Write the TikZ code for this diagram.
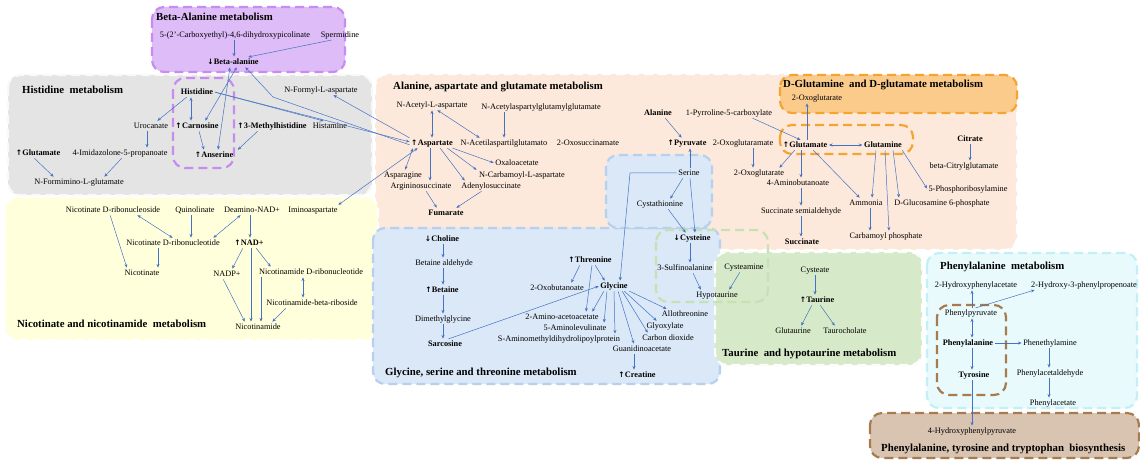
\documentclass[tikz,border=0pt]{standalone}
\usepackage{fontspec}
\setmainfont{Liberation Serif}
\newfontfamily\symf{DejaVu Sans}
\usetikzlibrary{arrows.meta}
\definecolor{ab}{HTML}{4472C4}
\definecolor{purfill}{HTML}{DDBCF7}
\definecolor{purline}{HTML}{C88CF0}
\definecolor{grayfill}{HTML}{E4E4E4}
\definecolor{yelfill}{HTML}{FFFFDC}
\definecolor{peachfill}{HTML}{FCE9DB}
\definecolor{orfill}{HTML}{FBCB8C}
\definecolor{orline}{HTML}{F5A432}
\definecolor{bluefill}{HTML}{DAE8F7}
\definecolor{blueline}{HTML}{B7D0EE}
\definecolor{grnline}{HTML}{C6E2B5}
\definecolor{grnfill}{HTML}{D6E9C8}
\definecolor{cyanfill}{HTML}{E8FAFC}
\definecolor{cyanline}{HTML}{C2EFF8}
\definecolor{brline}{HTML}{A87B4F}
\definecolor{brfill}{HTML}{D9C4B2}
\newcommand\upa{{\symf\fontsize{7.5}{8}\selectfont ↑}\kern0.3pt}
\newcommand\dna{{\symf\fontsize{7.5}{8}\selectfont ↓}\kern0.3pt}
\begin{document}
\begin{tikzpicture}[x=1pt,y=-1pt,
  reg/.style={line width=2.2pt, dash pattern=on 9pt off 5pt, rounded corners=12pt},
  lab/.style={font=\fontsize{8.3}{9}\selectfont, inner sep=1pt, text height=5.8pt, text depth=1.6pt},
  bl/.style={lab, font=\fontsize{8.3}{9}\selectfont\bfseries},
  ttl/.style={font=\fontsize{10.8}{12}\selectfont\bfseries, anchor=west, inner sep=0pt},
  con/.style={draw=ab, line width=0.5pt, -{Stealth[length=3.6pt,width=3pt]}, shorten >=0.5pt, shorten <=0.5pt},
  dcon/.style={draw=ab, line width=0.5pt, {Stealth[length=3.6pt,width=3pt]}-{Stealth[length=3.6pt,width=3pt]}, shorten >=0.5pt, shorten <=0.5pt}]
\useasboundingbox (0,0) rectangle (1140,462);
\fill[white] (0,0) rectangle (1140,462);
% ---------- regions ----------
\draw[reg, fill=peachfill, draw=white] (375,74) rectangle (1017,250);
\draw[reg, fill=orfill, draw=orline] (780,75) rectangle (1017,113);
\draw[reg, draw=orline] (780,125) rectangle (913,154);
\draw[reg, fill=grayfill, draw=white!95!gray] (8,75) rectangle (372,195);
\draw[reg, fill=purfill, draw=purline] (152,7) rectangle (345,72);
\draw[reg, draw=purline] (173,78) rectangle (234,168);
\draw[reg, fill=yelfill, draw=white] (5,197) rectangle (378,340);
\draw[reg, fill=bluefill, draw=blueline] (373,228) rectangle (720,384);
\draw[reg, fill=bluefill, draw=blueline] (606,155) rectangle (712,228);
\draw[reg, fill=grnfill, draw=white!90!grnfill] (715,252) rectangle (922,365);
\draw[reg, draw=grnline] (656,230) rectangle (768,302);
\draw[reg, fill=cyanfill, draw=cyanline] (927,253) rectangle (1137,408);
\draw[reg, draw=brline] (937,305) rectangle (1006,395);
\draw[reg, fill=brfill, draw=brline] (870,413) rectangle (1139,458);
% ---------- titles ----------
\node[ttl] (tBeta) at (156,17) {Beta-Alanine metabolism};
\node[ttl] (tHis) at (22,90) {Histidine\ \ metabolism};
\node[ttl] (tNic) at (17,324) {Nicotinate and nicotinamide\ \ metabolism};
\node[ttl] (tAla) at (393,87) {Alanine,\ aspartate and glutamate metabolism};
\node[ttl] (tDG) at (783,85) {D-Glutamine\ \ and D-glutamate metabolism};
\node[ttl] (tGly) at (385,373) {Glycine,\ serine and threonine metabolism};
\node[ttl] (tTau) at (722,354) {Taurine\ \ and hypotaurine metabolism};
\node[ttl] (tPhe) at (940,267) {Phenylalanine\ \ metabolism};
\node[ttl] (tPTT) at (881,449) {Phenylalanine,\ tyrosine and tryptophan\ \ biosynthesis};
% ---------- beta-alanine ----------
\node[lab] (pic) at (235,35) {5-(2'-Carboxyethyl)-4,6-dihydroxypicolinate};
\node[lab] (spd) at (340,35) {Spermidine};
\node[bl] (bala) at (233,62) {\dna Beta-alanine};
% ---------- histidine ----------
\node[bl] (his) at (197,92) {Histidine};
\node[lab] (uro) at (151,126) {Urocanate};
\node[bl] (car) at (197,126) {\upa Carnosine};
\node[bl] (mhis) at (272,126) {\upa 3-Methylhistidine};
\node[lab] (hsm) at (330,126) {Histamine};
\node[bl] (glu1) at (38,153) {\upa Glutamate};
\node[lab] (imz) at (120,153) {4-Imidazolone-5-propanoate};
\node[bl] (ans) at (214,155) {\upa Anserine};
\node[lab] (nfg) at (79,182) {N-Formimino-L-glutamate};
\node[lab] (nfa) at (321,90) {N-Formyl-L-aspartate};
% ---------- nicotinate ----------
\node[lab] (nrs) at (113,210) {Nicotinate\ D-ribonucleoside};
\node[lab] (quin) at (195,210) {Quinolinate};
\node[lab] (dnad) at (252,210) {Deamino-NAD+};
\node[lab] (imino) at (313,210) {Iminoaspartate};
\node[lab] (nmnn) at (173,243) {Nicotinate\ D-ribonucleotide};
\node[bl] (nad) at (249,243) {\upa NAD+};
\node[lab] (nic) at (142,273) {Nicotinate};
\node[lab] (nadp) at (227,274) {NADP+};
\node[lab] (nmn) at (311,272) {Nicotinamide\ D-ribonucleotide};
\node[lab] (nr) at (312,303) {Nicotinamide-beta-riboside};
\node[lab] (nam) at (258,327) {Nicotinamide};
% ---------- alanine / aspartate / glutamate ----------
\node[lab] (naa) at (432,105) {N-Acetyl-L-aspartate};
\node[lab] (naagg) at (541,107) {N-Acetylaspartylglutamylglutamate};
\node[bl] (asp) at (432,143) {\upa Aspartate};
\node[lab] (naag) at (504,143) {N-Acetilaspartilglutamato};
\node[lab] (oxs) at (588,143) {2-Oxosuccinamate};
\node[lab] (oaa) at (517,163) {Oxaloacetate};
\node[lab] (asn) at (403,175) {Asparagine};
\node[lab] (nca) at (522,175) {N-Carbamoyl-L-aspartate};
\node[lab] (args) at (421,186) {Argininosuccinate};
\node[lab] (ads) at (491,186) {Adenylosuccinate};
\node[bl] (fum) at (446,213) {Fumarate};
\node[bl] (ala) at (658,113) {Alanine};
\node[lab] (p5c) at (729,113) {1-Pyrroline-5-carboxylate};
\node[bl] (pyr) at (687,143) {\upa Pyruvate};
\node[lab] (ogm) at (743,143) {2-Oxoglutaramate};
\node[bl] (glu) at (805,145) {\upa Glutamate};
\node[bl] (gln) at (883,145) {Glutamine};
\node[bl] (cit) at (970,139) {Citrate};
\node[lab] (bcg) at (964,166) {beta-Citrylglutamate};
\node[lab] (og2) at (759,173) {2-Oxoglutarate};
\node[lab] (gaba) at (798,183) {4-Aminobutanoate};
\node[lab] (pra) at (968,189) {5-Phosphoribosylamine};
\node[lab] (nh3) at (866,203) {Ammonia};
\node[lab] (glcn) at (942,203) {D-Glucosamine\ 6-phosphate};
\node[lab] (ssa) at (801,211) {Succinate\ semialdehyde};
\node[lab] (cbp) at (886,236) {Carbamoyl\ phosphate};
\node[bl] (suc) at (802,242) {Succinate};
\node[lab] (og1) at (817,98) {2-Oxoglutarate};
% ---------- glycine / serine / threonine ----------
\node[bl] (cho) at (442,239) {\dna Choline};
\node[lab] (bald) at (444,263) {Betaine\ aldehyde};
\node[bl] (bet) at (442,290) {\upa Betaine};
\node[lab] (dmg) at (443,319) {Dimethylglycine};
\node[bl] (sar) at (445,344) {Sarcosine};
\node[bl] (thr) at (590,260) {\upa Threonine};
\node[lab] (obu) at (557,288) {2-Oxobutanoate};
\node[bl] (gly) at (614,286) {Glycine};
\node[lab] (aaa) at (562,317) {2-Amino-acetoacetate};
\node[lab] (allo) at (685,314) {Allothreonine};
\node[lab] (ala5) at (575,328) {5-Aminolevulinate};
\node[lab] (glx) at (665,326) {Glyoxylate};
\node[lab] (samp) at (559,339) {S-Aminomethyldihydrolipoylprotein};
\node[lab] (co2) at (668,338) {Carbon dioxide};
\node[lab] (gaa) at (642,349) {Guanidinoacetate};
\node[bl] (cre) at (637,375) {\upa Creatine};
\node[lab] (ser) at (689,173) {Serine};
\node[lab] (cth) at (660,204) {Cystathionine};
\node[bl] (cys) at (692,238) {\dna Cysteine};
\node[lab] (sfa) at (685,268) {3-Sulfinoalanine};
\node[lab] (hyp) at (717,295) {Hypotaurine};
\node[lab] (cya) at (744,267) {Cysteamine};
% ---------- taurine ----------
\node[lab] (cyst) at (815,270) {Cysteate};
\node[bl] (tau) at (817,300) {\upa Taurine};
\node[lab] (glt) at (793,331) {Glutaurine};
\node[lab] (tch) at (845,331) {Taurocholate};
% ---------- phenylalanine ----------
\node[lab] (hpa) at (976,285) {2-Hydroxyphenylacetate};
\node[lab] (hpp) at (1084,285) {2-Hydroxy-3-phenylpropenoate};
\node[lab] (ppy) at (971,313) {Phenylpyruvate};
\node[bl] (phe) at (968,343) {Phenylalanine};
\node[lab] (pea) at (1050,343) {Phenethylamine};
\node[bl] (tyr) at (974,375) {Tyrosine};
\node[lab] (pal) at (1050,373) {Phenylacetaldehyde};
\node[lab] (pac) at (1053,403) {Phenylacetate};
\node[lab] (hppy) at (972,431) {4-Hydroxyphenylpyruvate};
% ---------- connectors: beta-alanine / histidine ----------
\draw[con] ([xshift=-1pt]pic.south) -- ([xshift=-1pt]pic.south |- bala.north);
\draw[con] ([xshift=-8pt]spd.south) -- ([xshift=-12pt]bala.north east);
\draw[con] ([xshift=-10pt]his.south) -- ([xshift=6pt]uro.north);
\draw[dcon] ([xshift=-6pt]his.south) -- ([xshift=-6pt]his.south |- car.north);
\draw[con] (his.east) -- ([xshift=-6pt]hsm.north);
\draw[con] ([xshift=-4pt]uro.south) -- ([xshift=-4pt]uro.south |- imz.north);
\draw[con] ([xshift=-4pt]glu1.south) -- ([xshift=-25pt]nfg.north);
\draw[con] ([xshift=2pt]imz.south) -- ([xshift=25pt]nfg.north);
\draw[con] ([xshift=2pt]car.south) -- ([xshift=-10pt]ans.north);
\draw[con] ([xshift=-14pt]mhis.south) -- ([xshift=3pt]ans.north east);
\draw[dcon] ([xshift=8pt]car.north) -- ([xshift=4pt]bala.south);
\draw[dcon] ([xshift=4pt]ans.north) -- ([xshift=-3pt]bala.south);
\coordinate (bk) at (273,97);
\draw[con] ([yshift=-2pt]asp.west) -- (bk) -- ([xshift=12pt]bala.south);
\draw[con] (asp.north west) -- ([xshift=12pt]nfa.south);
\draw[con] (his.east) -- ([yshift=1pt]asp.west);
\draw[dcon] ([xshift=-14pt]asp.south) -- ([xshift=25pt]imino.north);
% ---------- nicotinate ----------
\draw[con] ([xshift=-3pt]nrs.south) -- ([xshift=-15pt]nic.north);
\draw[dcon] ([xshift=24pt]nrs.south) -- (nmnn.north);
\draw[con] ([xshift=-4pt]quin.south) -- ([xshift=-4pt]quin.south |- nmnn.north);
\draw[dcon] ([xshift=-11pt]dnad.south) -- ([xshift=40pt]nmnn.north);
\draw[con] ([xshift=-2pt]dnad.south) -- ([xshift=-2pt]dnad.south |- nad.north);
\draw[con] ([xshift=-15pt]nmnn.south) -- ([xshift=-15pt]nmnn.south |- nic.north);
\draw[con] ([xshift=-6pt]nad.south) -- ([xshift=5pt]nadp.north);
\draw[con] ([xshift=2pt]nad.south) -- ([xshift=2pt]nad.south |- nam.north);
\draw[con] ([xshift=7pt]nad.south) -- ([xshift=-40pt]nmn.north);
\draw[con] ([xshift=-4pt]nadp.south) -- ([xshift=-13pt]nam.north);
\draw[con] ([xshift=-50pt]nmn.south) -- ([xshift=-50pt]nmn.south |- nam.north);
\draw[dcon] ([xshift=-8pt]nmn.south) -- ([xshift=-8pt]nmn.south |- nr.north);
\draw[con] ([xshift=-26pt]nr.south) -- ([xshift=14pt]nam.north);
% ---------- alanine / aspartate / glutamate ----------
\draw[dcon] (naa.south) -- (naa.south |- asp.north);
\draw[dcon] ([xshift=5pt]naa.south) -- ([xshift=-24pt]naag.north);
\draw[con] ([xshift=-37pt]naagg.south) -- ([xshift=-37pt]naagg.south |- naag.north);
\draw[con] ([xshift=20pt]asp.south) -- (oaa.west);
\draw[con] ([xshift=15pt]asp.south) -- ([xshift=-45pt]nca.north);
\draw[con] ([xshift=8pt]asp.south) -- ([xshift=-26pt]ads.north);
\draw[con] ([xshift=-2pt]asp.south) -- ([xshift=-2pt]asp.south |- args.north);
\draw[dcon] ([xshift=-19pt]asp.south) -- ([xshift=2pt]asn.north);
\draw[con] ([xshift=5pt]args.south) -- ([xshift=-9pt]fum.north);
\draw[con] ([xshift=-9pt]ads.south) -- ([xshift=10pt]fum.north);
\draw[con] ([xshift=7pt]ala.south) -- ([xshift=-5pt]pyr.north);
\draw[con] ([xshift=1pt]ser.north) -- ([xshift=1pt]ser.north |- pyr.south);
\draw[con] ([xshift=10pt]ogm.south) -- ([xshift=10pt]ogm.south |- og2.north);
\draw[con] ([xshift=23pt]p5c.south) -- ([xshift=-4pt]glu.north);
\draw[con] ([xshift=2pt]glu.north) -- ([xshift=2pt]glu.north |- og1.south);
\draw[dcon] (glu.east) -- (gln.west);
\draw[con] ([xshift=-10pt]glu.south) -- ([xshift=20pt]og2.north);
\draw[con] ([xshift=-4pt]glu.south) -- ([xshift=-4pt]glu.south |- gaba.north);
\draw[con] ([xshift=8pt]glu.south) -- ([xshift=-6pt]nh3.north);
\draw[con] ([xshift=3pt]gaba.south) -- ([xshift=3pt]gaba.south |- ssa.north);
\draw[con] (ssa.south) -- (ssa.south |- suc.north);
\draw[con] ([xshift=-7pt]gln.south) -- ([xshift=6pt]nh3.north);
\draw[con] ([xshift=2pt]gln.south) -- ([xshift=3pt]cbp.north);
\draw[con] ([xshift=10pt]gln.south) -- ([xshift=-43pt]glcn.north);
\draw[con] ([xshift=19pt]gln.south) -- (pra.west);
\draw[con] ([xshift=4pt]nh3.south) -- ([xshift=4pt]nh3.south |- cbp.north);
\draw[con] (cit.south) -- (cit.south |- bcg.north);
% ---------- glycine / serine / threonine ----------
\draw[con] ([xshift=1pt]cho.south) -- ([xshift=1pt]cho.south |- bald.north);
\draw[con] ([xshift=-1pt]bald.south) -- ([xshift=-1pt]bald.south |- bet.north);
\draw[con] ([xshift=1pt]bet.south) -- ([xshift=1pt]bet.south |- dmg.north);
\draw[con] (dmg.south) -- (dmg.south |- sar.north);
\draw[con] ([xshift=3pt]sar.north) -- (gly.west);
\draw[con] ([xshift=-10pt]thr.south) -- ([xshift=14pt]obu.north);
\draw[con] ([xshift=5pt]thr.south) -- ([xshift=-9pt]gly.north);
\draw[con] ([xshift=2pt]thr.south) -- ([xshift=24pt]aaa.north);
\draw[con] ([xshift=-10pt]gly.south) -- ([xshift=30pt]aaa.north);
\draw[con] ([xshift=-7pt]gly.south) -- ([xshift=29pt]ala5.north);
\draw[con] (gly.south) -- ([xshift=56pt]samp.north);
\draw[con] ([xshift=4pt]gly.south) -- ([xshift=-8pt]gaa.north);
\draw[con] ([xshift=8pt]gly.south) -- ([xshift=-20pt]co2.north);
\draw[con] ([xshift=10pt]gly.south) -- ([xshift=-8pt]glx.north);
\draw[con] (gly.south east) -- ([xshift=-18pt]allo.north);
\draw[con] ([xshift=-8pt]gaa.south) -- ([xshift=-8pt]gaa.south |- cre.north);
\coordinate (sb) at (630,173);
\draw[con] (ser.west) -- (sb) -- ([xshift=6pt]gly.north);
\draw[con] ([xshift=-6pt]ser.south) -- ([xshift=10pt]cth.north);
\draw[con] ([xshift=1pt]ser.south) -- ([xshift=3pt]cys.north);
\draw[con] ([xshift=8pt]cth.south) -- ([xshift=-6pt]cys.north);
\draw[con] ([xshift=-2pt]cys.south) -- ([xshift=-2pt]cys.south |- sfa.north);
\draw[con] ([xshift=8pt]sfa.south) -- ([xshift=-16pt]hyp.north);
\draw[con] ([xshift=-4pt]cya.south) -- ([xshift=12pt]hyp.north);
% ---------- taurine ----------
\draw[con] (cyst.south) -- (cyst.south |- tau.north);
\draw[con] ([xshift=-5pt]tau.south) -- ([xshift=8pt]glt.north);
\draw[con] ([xshift=3pt]tau.south) -- ([xshift=-10pt]tch.north);
% ---------- phenylalanine ----------
\draw[con] ([xshift=1pt]ppy.north) -- ([xshift=1pt]ppy.north |- hpa.south);
\draw[con] ([xshift=4pt]ppy.north) -- ([xshift=-49pt]hpp.south);
\draw[dcon] ([xshift=1pt]ppy.south) -- ([xshift=1pt]ppy.south |- phe.north);
\draw[con] (phe.east) -- (pea.west);
\draw[con] ([xshift=4pt]phe.south) -- ([xshift=4pt]phe.south |- tyr.north);
\draw[con] ([xshift=-1pt]pea.south) -- ([xshift=-1pt]pea.south |- pal.north);
\draw[con] ([xshift=-1pt]pal.south) -- ([xshift=-1pt]pal.south |- pac.north);
\draw[con] ([xshift=-2pt]tyr.south) -- ([xshift=-2pt]tyr.south |- hppy.north);
\end{tikzpicture}
\end{document}
